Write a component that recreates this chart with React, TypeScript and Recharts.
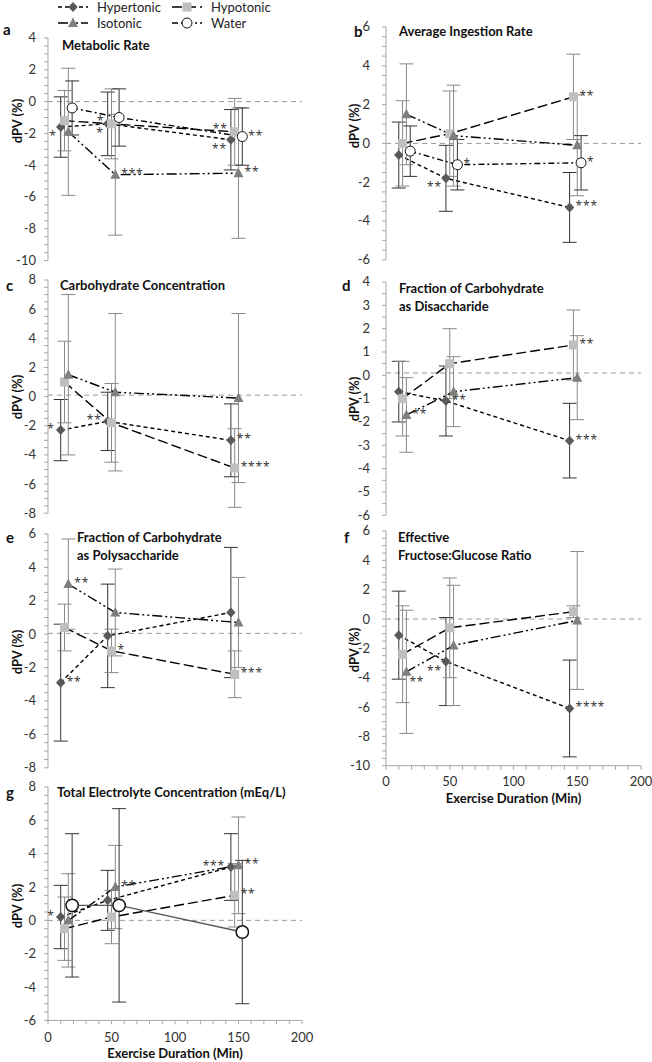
import React from 'react';
import { LineChart, Line, XAxis, YAxis, ErrorBar, ReferenceLine } from 'recharts';

type Key = 'hyper' | 'hypo' | 'iso' | 'water';

const seriesNames: Record<Key, string> = { hyper: 'Hypertonic', hypo: 'Hypotonic', iso: 'Isotonic', water: 'Water' };

// exercise-duration positions (min) of each drink group
const xHyper = [10, 47, 144];
const xHypo = [13, 50, 147];
const xIso = [16, 53, 150];
const xWater = [19, 56, 153];
const xPos: Record<Key, number[]> = { hyper: xHyper, hypo: xHypo, iso: xIso, water: xWater };

const xTickLabels = [0, 50, 100, 150, 200];

// (a) Metabolic Rate
const metabolicMean = { hyper: [-1.6, -1.4, -2.4], hypo: [-1.2, -1.4, -1.9], iso: [-1.9, -4.6, -4.5], water: [-0.4, -1.0, -2.2] };
const metabolicSd = { hyper: [1.9, 2.0, 1.9], hypo: [1.9, 2.2, 2.1], iso: [4.0, 3.8, 4.1], water: [1.7, 1.8, 1.8] };
const metabolicSig = { hyper: ['**', '*', '**'], hypo: ['', '*', '**'], iso: ['', '***', '**'], water: ['', '', '**'] };

// (b) Average Ingestion Rate
const ingestionMean = { hyper: [-0.6, -1.8, -3.3], hypo: [0.0, 0.5, 2.4], iso: [1.5, 0.4, -0.1], water: [-0.4, -1.1, -1.0] };
const ingestionSd = { hyper: [1.7, 1.7, 1.8], hypo: [2.2, 2.2, 2.2], iso: [2.6, 2.6, 2.6], water: [1.3, 1.3, 1.4] };
const ingestionSig = { hyper: ['', '**', '***'], hypo: ['', '', '**'], iso: ['', '', ''], water: ['', '*', '*'] };

// (c) Carbohydrate Concentration
const carbMean = { hyper: [-2.3, -1.7, -3.0], hypo: [1.0, -1.8, -4.9], iso: [1.5, 0.3, -0.1] };
const carbSd = { hyper: [2.1, 2.0, 2.5], hypo: [2.8, 2.7, 2.7], iso: [5.5, 5.4, 5.8] };
const carbSig = { hyper: ['**', '**', '**'], hypo: ['', '', '****'], iso: ['', '', ''] };

// (d) Fraction of Carbohydrate as Disaccharide
const disaccMean = { hyper: [-0.7, -1.1, -2.8], hypo: [-1.0, 0.5, 1.3], iso: [-1.7, -0.7, -0.1] };
const disaccSd = { hyper: [1.3, 1.5, 1.6], hypo: [1.6, 1.5, 1.5], iso: [1.6, 1.5, 1.8] };
const disaccSig = { hyper: ['', '**', '***'], hypo: ['', '', '**'], iso: ['**', '', ''] };

// (e) Fraction of Carbohydrate as Polysaccharide
const polyMean = { hyper: [-2.9, -0.1, 1.3], hypo: [0.4, -1.0, -2.4], iso: [3.0, 1.3, 0.7] };
const polySd = { hyper: [3.5, 3.1, 3.9], hypo: [1.4, 1.3, 1.4], iso: [2.7, 2.6, 2.7] };
const polySig = { hyper: ['**', '', ''], hypo: ['', '*', '***'], iso: ['**', '', ''] };

// (f) Effective Fructose:Glucose Ratio
const fructoseMean = { hyper: [-1.1, -2.9, -6.1], hypo: [-2.4, -0.6, 0.5], iso: [-3.6, -1.8, -0.1] };
const fructoseSd = { hyper: [3.0, 3.0, 3.3], hypo: [3.3, 3.4, 0.4], iso: [4.2, 4.1, 4.7] };
const fructoseSig = { hyper: ['', '**', '****'], hypo: ['', '', ''], iso: ['**', '', ''] };

// (g) Total Electrolyte Concentration
const electroMean = { hyper: [0.2, 1.2, 3.2], hypo: [-0.5, 0.2, 1.5], iso: [0.0, 2.0, 3.3], water: [0.9, 0.9, -0.7] };
const electroSd = { hyper: [1.9, 1.8, 2.0], hypo: [1.9, 1.6, 1.9], iso: [2.8, 2.5, 2.9], water: [4.3, 5.8, 4.3] };
const electroSig = { hyper: ['*', '', '***'], hypo: ['', '', '**'], iso: ['', '**', '**'], water: ['', '', ''] };

// placement of the significance labels (style only)
const sigSide: Record<string, Partial<Record<Key, string[]>>> = {
  a: { hyper: ['bl', 'bl', 'bl'], hypo: ['r', 'tl', 'tl'] },
  b: { hyper: ['r', 'bl', 'r'] },
  c: { hyper: ['l', 'l', 'r'] },
  d: {},
  e: {},
  f: { hyper: ['r', 'bl', 'r'], iso: ['br', 'r', 'r'] },
  g: { hyper: ['l', 'r', 'l'] },
};
const sideSpec: Record<string, { dx: number; dy: number; anchor: string }> = {
  r: { dx: 6, dy: 3, anchor: 'start' },
  l: { dx: -6, dy: 3, anchor: 'end' },
  bl: { dx: -4, dy: 13, anchor: 'end' },
  tl: { dx: -7, dy: 1, anchor: 'end' },
  br: { dx: 3, dy: 14, anchor: 'start' },
};

const FONT = 'Lato, Open Sans, sans-serif';
const STAR_FONT = 'Open Sans, Lato';

const styles: Record<Key, { dash: string; err: string }> = {
  hyper: { dash: '4 3', err: '#333' },
  hypo: { dash: '10 4', err: '#8a8a8a' },
  iso: { dash: '10 3 2 3 2 3', err: '#8a8a8a' },
  water: { dash: '6 3 2 3', err: '#333' },
};

function Marker({ kind, cx, cy, big }: { kind: Key; cx: number; cy: number; big?: boolean }) {
  if (kind === 'hyper')
    return <polygon points={`${cx},${cy - 5} ${cx + 4.7},${cy} ${cx},${cy + 5} ${cx - 4.7},${cy}`} fill="#595959" />;
  if (kind === 'hypo') return <rect x={cx - 4.5} y={cy - 4.5} width={9} height={9} fill="#bfbfbf" />;
  if (kind === 'iso')
    return <polygon points={`${cx},${cy - 5.5} ${cx + 5},${cy + 4} ${cx - 5},${cy + 4}`} fill="#7f7f7f" />;
  return <circle cx={cx} cy={cy} r={big ? 6.2 : 5} fill="#fff" stroke="#111" strokeWidth={big ? 1.5 : 1} />;
}

const makeDot = (kind: Key, big: boolean) => (props: any) => {
  const { cx, cy, payload, index } = props;
  if (cx == null || cy == null) return <g key={`d${index}`} />;
  const spec = sideSpec[payload.side] || sideSpec.r;
  return (
    <g key={`d${index}`}>
      <Marker kind={kind} cx={cx} cy={cy} big={big} />
      {payload.sig ? (
        <text
          x={cx + spec.dx}
          y={cy + spec.dy}
          textAnchor={spec.anchor as any}
          fontSize={12}
          letterSpacing={0.8}
          fill="#333"
          fontFamily={STAR_FONT}
        >
          {payload.sig}
        </text>
      ) : null}
    </g>
  );
};

const makeYTick = (major: number) => (props: any) => {
  const { x, y, payload, index } = props;
  const v = payload.value;
  const r = v / major;
  if (Math.abs(r - Math.round(r)) > 1e-6) return <g key={`yt${index}`} />;
  return (
    <text key={`yt${index}`} x={x} y={y} dy={4.5} textAnchor="end" fontSize={13} fill="#333" fontFamily={FONT}>
      {v}
    </text>
  );
};

const makeXTick = () => (props: any) => {
  const { x, y, payload, index } = props;
  const v = payload.value;
  if (!xTickLabels.includes(v)) return <g key={`xt${index}`} />;
  return (
    <text key={`xt${index}`} x={x} y={y} dy={11} textAnchor="middle" fontSize={13} fill="#333" fontFamily={FONT}>
      {v}
    </text>
  );
};

const xTicksAll: number[] = [];
for (let v = 0; v <= 200; v += 10) xTicksAll.push(v);

type PanelCfg = {
  id: string;
  col: 'L' | 'R';
  plotTop: number;
  plotBottom: number;
  domain: [number, number];
  major: number;
  refY: number;
  mean: Partial<Record<Key, number[]>>;
  sd: Partial<Record<Key, number[]>>;
  sig: Partial<Record<Key, string[]>>;
  showX?: boolean;
  waterSolid?: boolean;
};

const panels: PanelCfg[] = [
  { id: 'a', col: 'L', plotTop: 38.1, plotBottom: 260.7, domain: [-10, 4], major: 2, refY: 0, mean: metabolicMean, sd: metabolicSd, sig: metabolicSig },
  { id: 'b', col: 'R', plotTop: 26.9, plotBottom: 259.7, domain: [-6, 6], major: 2, refY: 0, mean: ingestionMean, sd: ingestionSd, sig: ingestionSig },
  { id: 'c', col: 'L', plotTop: 280.2, plotBottom: 513.4, domain: [-8, 8], major: 2, refY: 0.1, mean: carbMean, sd: carbSd, sig: carbSig },
  { id: 'd', col: 'R', plotTop: 281.7, plotBottom: 515, domain: [-6, 4], major: 1, refY: 0.1, mean: disaccMean, sd: disaccSd, sig: disaccSig },
  { id: 'e', col: 'L', plotTop: 533.5, plotBottom: 767.3, domain: [-8, 6], major: 2, refY: 0.05, mean: polyMean, sd: polySd, sig: polySig },
  { id: 'f', col: 'R', plotTop: 531.3, plotBottom: 766, domain: [-10, 6], major: 2, refY: 0, mean: fructoseMean, sd: fructoseSd, sig: fructoseSig, showX: true },
  { id: 'g', col: 'L', plotTop: 786.9, plotBottom: 1020.3, domain: [-6, 8], major: 2, refY: 0, mean: electroMean, sd: electroSd, sig: electroSig, showX: true, waterSolid: true },
];

const order: Key[] = ['hyper', 'hypo', 'iso', 'water'];

function Panel({ cfg }: { cfg: PanelCfg }) {
  const isL = cfg.col === 'L';
  const left = isL ? 0 : 326;
  const width = isL ? 322 : 326;
  const yw = isL ? 48 : 60;
  const right = isL ? 20 : 11;
  const xh = cfg.showX ? 36 : 0;
  const mTop = 10;
  const mBottom = cfg.showX ? 4 : 10;
  const top = cfg.plotTop - mTop;
  const height = cfg.plotBottom - cfg.plotTop + mTop + mBottom + xh;
  const yTicks: number[] = [];
  for (let v = cfg.domain[0] * 2; v <= cfg.domain[1] * 2; v += 1) yTicks.push(v / 2);
  const keys = order.filter((k) => cfg.mean[k]);
  return (
    <div style={{ position: 'absolute', left, top }}>
      <LineChart width={width} height={height} margin={{ top: mTop, right, bottom: mBottom, left: 0 }}>
        <XAxis
          dataKey="x"
          type="number"
          domain={[0, 200]}
          ticks={xTicksAll}
          interval={0}
          hide={!cfg.showX}
          height={xh}
          axisLine={{ stroke: '#a6a6a6' }}
          tickLine={{ stroke: '#a6a6a6' }}
          tickSize={4}
          tickMargin={cfg.id === 'g' ? 7 : 5}
          tick={makeXTick()}
          allowDataOverflow
        />
        <YAxis
          type="number"
          domain={cfg.domain}
          ticks={yTicks}
          interval={0}
          width={yw}
          axisLine={{ stroke: '#a6a6a6' }}
          tickLine={{ stroke: '#a6a6a6' }}
          tickSize={4}
          tickMargin={isL ? 8 : 12}
          tick={makeYTick(cfg.major)}
          allowDataOverflow
        />
        <ReferenceLine y={cfg.refY} stroke="#9a9a9a" strokeDasharray="5 4" strokeWidth={1} />
        {keys.map((k) => {
          const sides = sigSide[cfg.id][k] || [];
          const data = xPos[k].map((x, i) => ({
            x,
            y: (cfg.mean[k] as number[])[i],
            err: (cfg.sd[k] as number[])[i],
            sig: (cfg.sig[k] || [])[i] || '',
            side: sides[i] || 'r',
          }));
          const solid = k === 'water' && cfg.waterSolid;
          return (
            <Line
              key={k}
              name={seriesNames[k]}
              data={data}
              dataKey="y"
              type="linear"
              stroke={solid ? '#595959' : '#000'}
              strokeWidth={1.4}
              strokeDasharray={solid ? undefined : styles[k].dash}
              dot={makeDot(k, !!solid)}
              activeDot={false}
              isAnimationActive={false}
            >
              <ErrorBar dataKey="err" direction="y" width={7} strokeWidth={1} stroke={styles[k].err} />
            </Line>
          );
        })}
      </LineChart>
    </div>
  );
}

function LegendItem({ kind, x, y, label }: { kind: Key; x: number; y: number; label: string }) {
  return (
    <g>
      <line x1={x} x2={x + 30} y1={y} y2={y} stroke="#000" strokeWidth={1.4} strokeDasharray={styles[kind].dash} />
      <Marker kind={kind} cx={x + 15} cy={y} />
      <text x={x + 39} y={y + 4.5} fontSize={13} fill="#222" fontFamily={FONT}>
        {label}
      </text>
    </g>
  );
}

const titleStyle = { fontSize: 13, fontWeight: 700, fill: '#111', fontFamily: FONT } as const;
const letterStyle = { fontSize: 15, fontWeight: 700, fill: '#111', fontFamily: FONT } as const;

const yTitleCenters = [
  { x: 17, y: 121 },
  { x: 354, y: 126 },
  { x: 17, y: 397 },
  { x: 354, y: 399 },
  { x: 17, y: 652 },
  { x: 354, y: 650 },
  { x: 17, y: 906 },
];

export default function App() {
  return (
    <div style={{ position: 'absolute', left: 0, top: 0, width: 652, height: 1062, background: '#fff', fontFamily: FONT }}>
      {panels.map((p) => (
        <Panel key={p.id} cfg={p} />
      ))}
      <svg width={652} height={1062} style={{ position: 'absolute', left: 0, top: 0, pointerEvents: 'none' }}>
        <LegendItem kind="hyper" x={58} y={7} label="Hypertonic" />
        <LegendItem kind="hypo" x={172} y={7} label="Hypotonic" />
        <LegendItem kind="iso" x={58} y={23} label="Isotonic" />
        <LegendItem kind="water" x={172} y={23} label="Water" />

        <text x={3} y={35} {...letterStyle}>a</text>
        <text x={354} y={37} {...letterStyle}>b</text>
        <text x={6} y={291} {...letterStyle}>c</text>
        <text x={342} y={291} {...letterStyle}>d</text>
        <text x={6} y={543} {...letterStyle}>e</text>
        <text x={344} y={543} {...letterStyle}>f</text>
        <text x={6} y={798} {...letterStyle}>g</text>

        <text x={62} y={50} {...titleStyle}>Metabolic Rate</text>
        <text x={399} y={36} {...titleStyle}>Average Ingestion Rate</text>
        <text x={60} y={290} {...titleStyle}>Carbohydrate Concentration</text>
        <text x={399} y={293} {...titleStyle}>Fraction of Carbohydrate</text>
        <text x={399} y={311} {...titleStyle}>as Disaccharide</text>
        <text x={77} y={542} {...titleStyle}>Fraction of Carbohydrate</text>
        <text x={77} y={560} {...titleStyle}>as Polysaccharide</text>
        <text x={398} y={542} {...titleStyle}>Effective</text>
        <text x={398} y={560} {...titleStyle}>Fructose:Glucose Ratio</text>
        <text x={57} y={797} {...titleStyle}>Total Electrolyte Concentration (mEq/L)</text>

        <text x={513.5} y={803} textAnchor="middle" {...titleStyle}>Exercise Duration (Min)</text>
        <text x={175} y={1058} textAnchor="middle" {...titleStyle}>Exercise Duration (Min)</text>

        {yTitleCenters.map((c, i) => (
          <text
            key={i}
            x={c.x}
            y={c.y}
            transform={`rotate(-90 ${c.x} ${c.y})`}
            textAnchor="middle"
            dominantBaseline="central"
            {...titleStyle}
          >
            dPV (%)
          </text>
        ))}
      </svg>
    </div>
  );
}
